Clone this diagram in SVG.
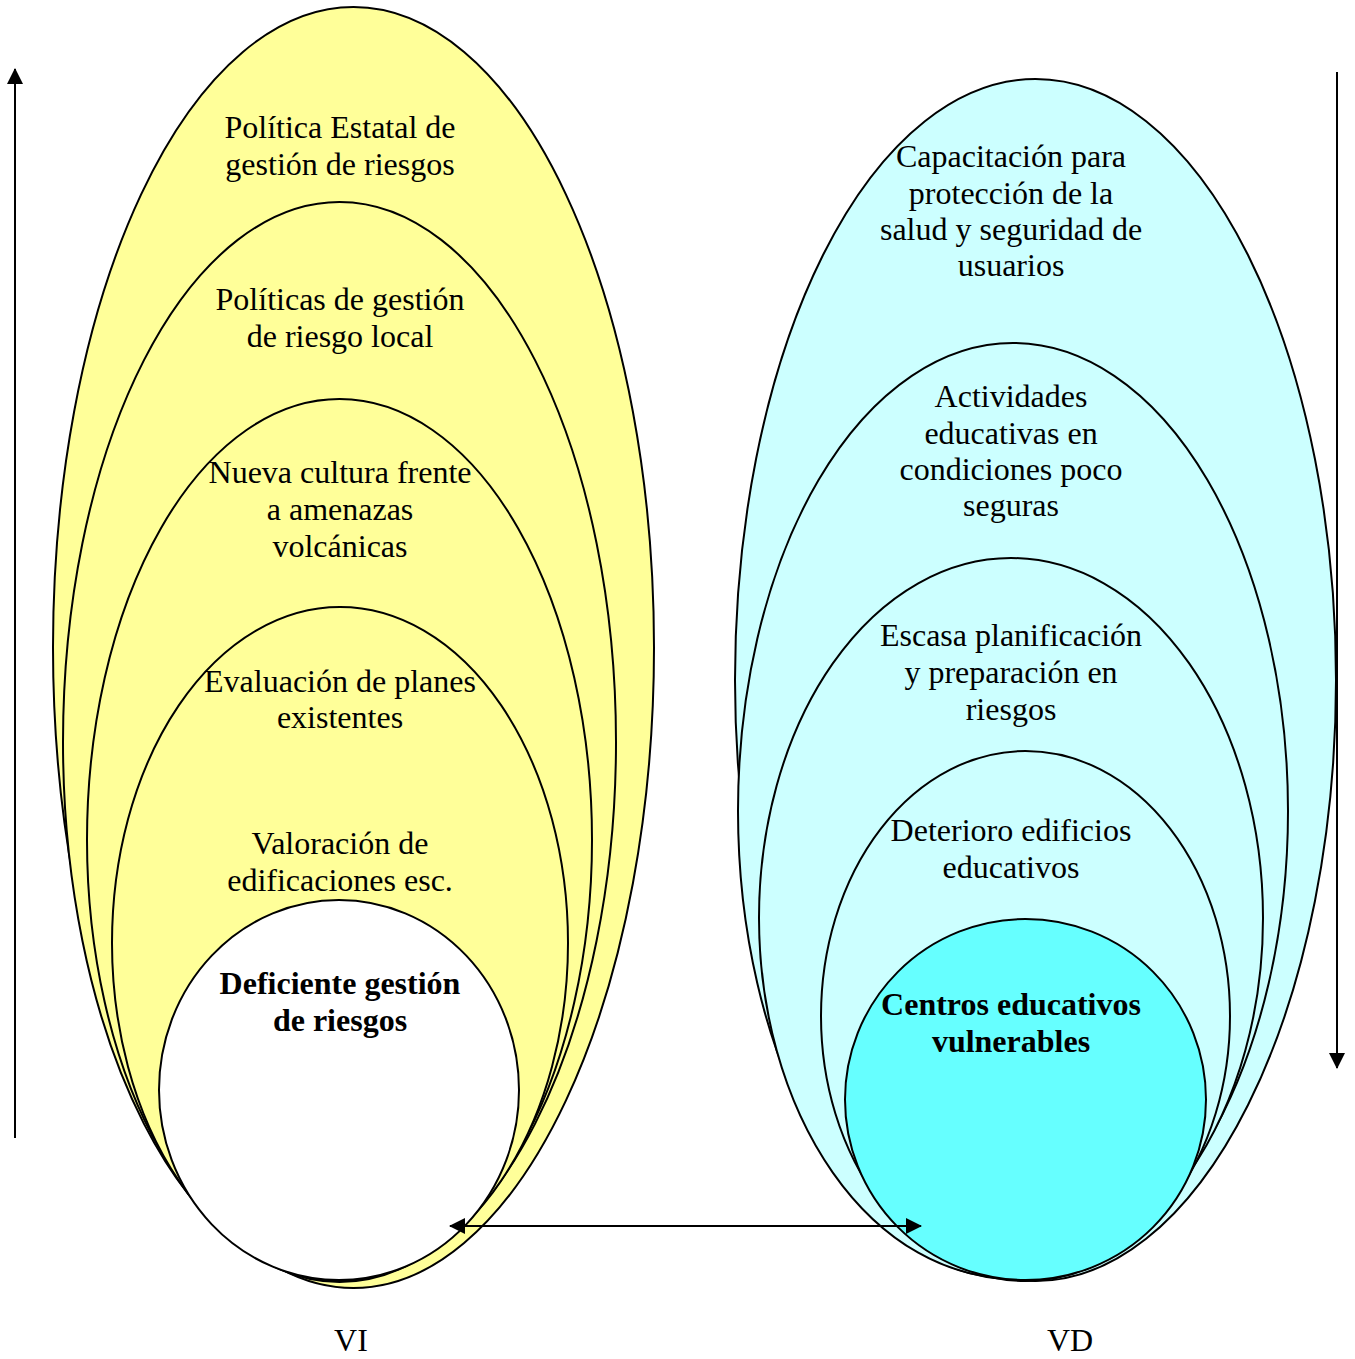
<svg xmlns="http://www.w3.org/2000/svg" width="1355" height="1359" viewBox="0 0 1355 1359">
<style>
.e{stroke:#000;stroke-width:2}
.y{fill:#FFFF99}
.c{fill:#CCFFFF}
.t{font-family:"Liberation Serif","Times New Roman",serif;font-size:32px;fill:#000;text-anchor:middle}
.b{font-weight:bold}
.ln{stroke:#000;stroke-width:2;fill:none}
</style>
<defs>
<marker id="ah" viewBox="0 0 16 16" refX="15" refY="8" markerWidth="16" markerHeight="16" markerUnits="userSpaceOnUse" orient="auto-start-reverse">
<path d="M0,0 L16,8 L0,16 Z" fill="#000"/>
</marker>
</defs>
<rect width="1355" height="1359" fill="#fff"/>

<g id="vi-1">
<ellipse class="e y" cx="353.5" cy="647.5" rx="300.5" ry="640.5"/>
<text class="t" x="340" y="138">Política Estatal de</text>
<text class="t" x="340" y="175">gestión de riesgos</text>
</g>
<g id="vi-2">
<ellipse class="e y" cx="339.5" cy="742" rx="276.5" ry="540"/>
<text class="t" x="340" y="310">Políticas de gestión</text>
<text class="t" x="340" y="347">de riesgo local</text>
</g>
<g id="vi-3">
<ellipse class="e y" cx="339.5" cy="840" rx="252.5" ry="441"/>
<text class="t" x="340" y="483">Nueva cultura frente</text>
<text class="t" x="340" y="520">a amenazas</text>
<text class="t" x="340" y="557">volcánicas</text>
</g>
<g id="vi-4">
<ellipse class="e y" cx="340" cy="943" rx="228" ry="336"/>
<text class="t" x="340" y="692">Evaluación de planes</text>
<text class="t" x="340" y="728">existentes</text>
<text class="t" x="340" y="854">Valoración de</text>
<text class="t" x="340" y="891">edificaciones esc.</text>
</g>
<g id="vi-5">
<ellipse class="e" fill="#fff" cx="339" cy="1090" rx="180" ry="190"/>
<text class="t b" x="340" y="994">Deficiente gestión</text>
<text class="t b" x="340" y="1031">de riesgos</text>
</g>

<g id="vd-1">
<ellipse class="e c" cx="1035.5" cy="680" rx="300.5" ry="601"/>
<text class="t" x="1011" y="167">Capacitación para</text>
<text class="t" x="1011" y="204">protección de la</text>
<text class="t" x="1011" y="240">salud y seguridad de</text>
<text class="t" x="1011" y="276">usuarios</text>
</g>
<g id="vd-2">
<ellipse class="e c" cx="1013" cy="811" rx="275" ry="468"/>
<text class="t" x="1011" y="407">Actividades</text>
<text class="t" x="1011" y="444">educativas en</text>
<text class="t" x="1011" y="480">condiciones poco</text>
<text class="t" x="1011" y="516">seguras</text>
</g>
<g id="vd-3">
<ellipse class="e c" cx="1011" cy="918" rx="252" ry="360"/>
<text class="t" x="1011" y="646">Escasa planificación</text>
<text class="t" x="1011" y="683">y preparación en</text>
<text class="t" x="1011" y="720">riesgos</text>
</g>
<g id="vd-4">
<ellipse class="e c" cx="1025.5" cy="1016" rx="204.5" ry="265"/>
<text class="t" x="1011" y="841">Deterioro edificios</text>
<text class="t" x="1011" y="878">educativos</text>
</g>
<g id="vd-5">
<ellipse class="e" fill="#66FFFF" cx="1025.5" cy="1099.5" rx="180.5" ry="180.5"/>
<text class="t b" x="1011" y="1015">Centros educativos</text>
<text class="t b" x="1011" y="1052">vulnerables</text>
</g>

<g id="labels">
<text class="t" x="351" y="1351">VI</text>
<text class="t" x="1070" y="1351">VD</text>
</g>

<g id="connectors">
<line class="ln" x1="15" y1="1138" x2="15" y2="69" marker-end="url(#ah)"/>
<line class="ln" x1="1337" y1="72" x2="1337" y2="1068" marker-end="url(#ah)"/>
<line class="ln" x1="450" y1="1226" x2="921" y2="1226" marker-start="url(#ah)" marker-end="url(#ah)"/>
</g>
</svg>
